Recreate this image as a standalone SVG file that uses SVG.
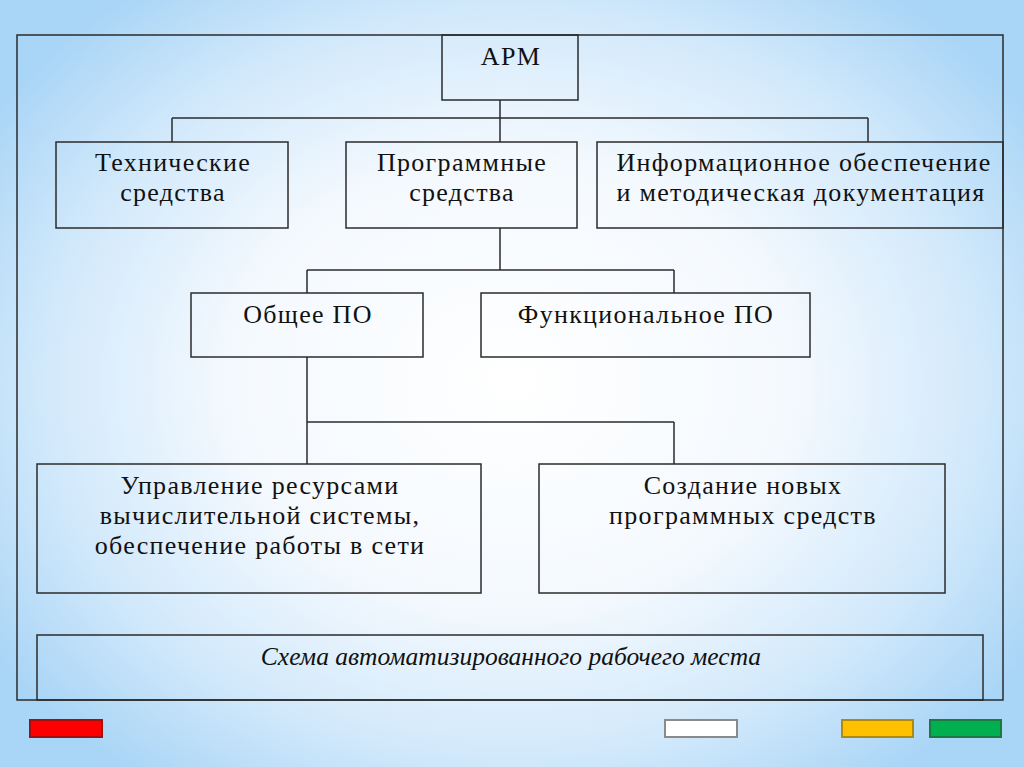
<svg xmlns="http://www.w3.org/2000/svg" width="1024" height="767" viewBox="0 0 1024 767">
<defs>
<radialGradient id="bg" cx="512" cy="383" r="620" gradientUnits="userSpaceOnUse" gradientTransform="translate(512 383) scale(1 0.8) translate(-512 -383)">
<stop offset="0" stop-color="#ffffff"/>
<stop offset="0.45" stop-color="#f4f9fe"/>
<stop offset="0.75" stop-color="#d2e9fb"/>
<stop offset="1" stop-color="#a9d5f6"/>
</radialGradient>
</defs>
<style>
.box{fill:none;stroke:#2b2b2b;stroke-width:1.5}
.ln{fill:none;stroke:#2b2b2b;stroke-width:1.5}
.t{font-family:"Liberation Serif","DejaVu Serif",serif;font-size:26px;letter-spacing:1.3px;fill:#111;text-anchor:middle}
.cap{font-family:"Liberation Serif",serif;font-style:italic;font-size:25.5px;fill:#111;text-anchor:middle}
.btn{stroke-width:2}
</style>
<rect x="0" y="0" width="1024" height="767" fill="url(#bg)"/>
<rect class="box" x="17" y="35" width="986" height="665"/>
<g id="connectors">
<path class="ln" d="M500 100V118M172 118H868M172 118V142M500 118V142M868 118V142"/>
<path class="ln" d="M500 228V270M307 270H674M307 270V293M674 270V293"/>
<path class="ln" d="M307 357V422M307 422H674M307 422V464M674 422V464"/>
</g>
<g id="arm"><rect class="box" x="442" y="35" width="136" height="65"/><text class="t" x="511" y="65">АРМ</text></g>
<g id="tech"><rect class="box" x="56" y="142" width="232" height="86"/><text class="t" x="173" y="171">Технические</text><text class="t" x="173" y="201">средства</text></g>
<g id="prog"><rect class="box" x="346" y="142" width="231" height="86"/><text class="t" x="462" y="171">Программные</text><text class="t" x="462" y="201">средства</text></g>
<g id="info"><rect class="box" x="597" y="142" width="406" height="86"/><text class="t" x="804" y="171">Информационное обеспечение</text><text class="t" x="801" y="201">и методическая документация</text></g>
<g id="general"><rect class="box" x="191" y="293" width="232" height="64"/><text class="t" x="308" y="323">Общее ПО</text></g>
<g id="func"><rect class="box" x="481" y="293" width="329" height="64"/><text class="t" x="646" y="323">Функциональное ПО</text></g>
<g id="manage"><rect class="box" x="37" y="464" width="444" height="129"/><text class="t" x="260" y="494">Управление ресурсами</text><text class="t" x="260" y="524">вычислительной системы,</text><text class="t" x="260" y="554">обеспечение работы в сети</text></g>
<g id="create"><rect class="box" x="539" y="464" width="406" height="129"/><text class="t" x="743" y="494">Создание новых</text><text class="t" x="743" y="524">программных средств</text></g>
<g id="caption"><rect class="box" x="37" y="635" width="946" height="65"/><text class="cap" x="511" y="665">Схема автоматизированного рабочего места</text></g>
<g id="buttons">
<rect class="btn" x="30" y="720" width="72" height="17" fill="#ff0000" stroke="#a01010"/>
<rect class="btn" x="665" y="720" width="72" height="17" fill="#ffffff" stroke="#8a8a8a"/>
<rect class="btn" x="842" y="720" width="71" height="17" fill="#ffc000" stroke="#b08a10"/>
<rect class="btn" x="930" y="720" width="71" height="17" fill="#00b050" stroke="#1a7a40"/>
</g>
</svg>
